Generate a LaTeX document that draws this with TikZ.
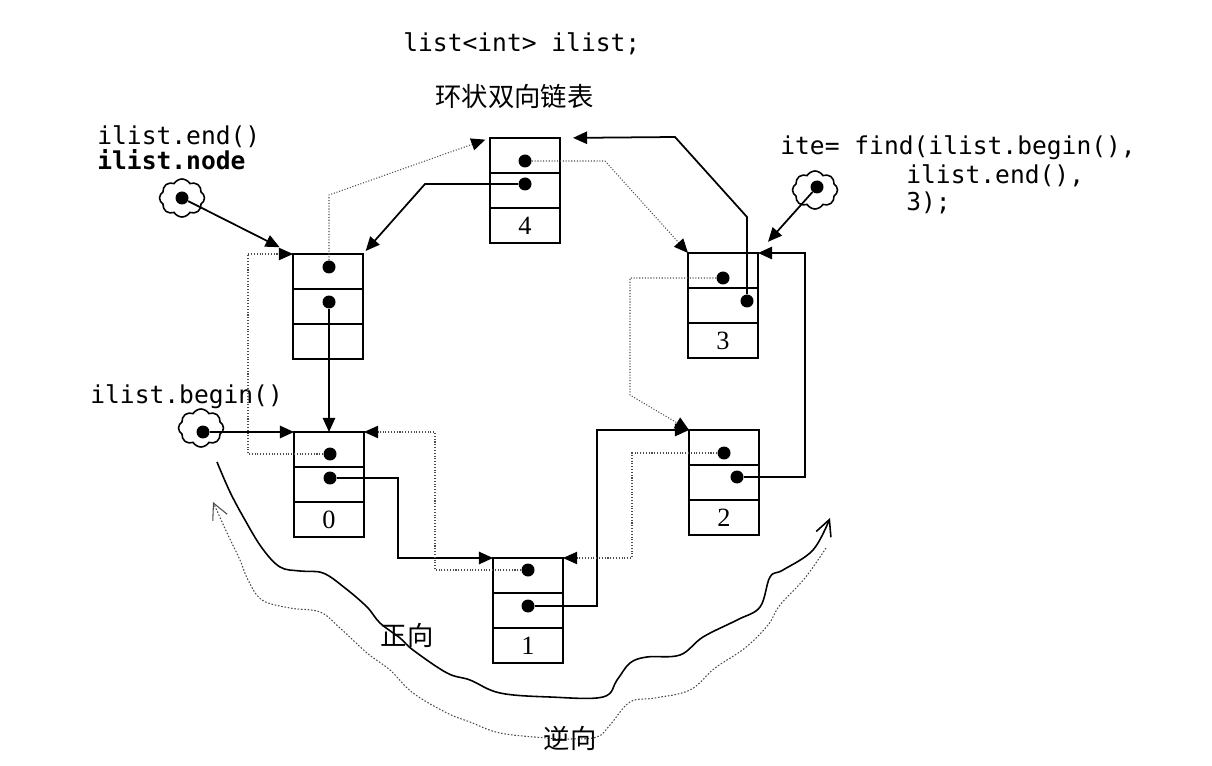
\documentclass[tikz,border=0pt]{standalone}
\usepackage{fontspec}
\setmainfont{Liberation Serif}
\setmonofont{DejaVu Sans Mono}
\newfontfamily\cjk{Noto Sans CJK SC}
\usetikzlibrary{arrows.meta,positioning,shapes.symbols}

% one list node: three stacked cells, value in the last one
\newcommand{\listnode}[3]{%
  \node[cell] (#1a) at (#2) {};
  \node[cell,below=0pt of #1a] (#1b) {};
  \node[cell,below=0pt of #1b] (#1c) {#3};}

\begin{document}
\begin{tikzpicture}[x=0.02cm,y=-0.02cm,>={Triangle[length=8pt,width=7pt]},
  cell/.style={draw,line width=1.1pt,minimum width=1.4cm,minimum height=0.7cm,inner sep=0pt,outer sep=0pt,font=\fontsize{15}{17}\selectfont},
  dot/.style={circle,fill,inner sep=0pt,minimum size=0.26cm},
  puff/.style={cloud,cloud puffs=8,cloud puff arc=120,draw,line width=0.9pt,minimum width=0.9cm,minimum height=0.76cm,inner sep=0pt},
  link/.style={->,line width=1pt},
  nxt/.style={-{Triangle[length=8pt,width=7pt,black]},densely dotted,line width=0.6pt,black!70},
  code/.style={font=\ttfamily\fontsize{14}{16}\selectfont,inner sep=0pt,anchor=base west},
  zh/.style={font=\cjk\fontsize{15}{18}\selectfont,inner sep=0pt},
  wave/.style={line width=0.9pt,-{Straight Barb[length=9pt,width=9pt]}}]
  \useasboundingbox (0,0) rectangle (1212,766);

  % texts
  \node[code] (decl) at (403,52) {list<int> ilist;};
  \node[zh,anchor=base west] (ring) at (435,107) {环状双向链表};
  \node[code] (endlbl) at (97,145) {ilist.end()};
  \node[code] (nodelbl) at (97,170) {\bfseries ilist.node};
  \node[code] (beglbl) at (90,403) {ilist.begin()};
  \node[code] (findA) at (780,155) {ite= find(ilist.begin(),};
  \node[code] (findB) at (906,184) {ilist.end(),};
  \node[code] (findC) at (906,211) {3);};

  % list nodes
  \listnode{nE}{328,271.5}{}
  \listnode{n4}{525,155.5}{4}
  \listnode{n3}{723,270.5}{3}
  \listnode{n2}{724,447.5}{2}
  \listnode{n1}{528,575.5}{1}
  \listnode{n0}{329,449.5}{0}

  \node[dot] (dEa) at (329,267) {};
  \node[dot] (dEb) at (329,302) {};
  \node[dot] (d4a) at (525,161) {};
  \node[dot] (d4b) at (525,184) {};
  \node[dot] (d3a) at (723,278) {};
  \node[dot] (d3b) at (747,301) {};
  \node[dot] (d2a) at (724,453) {};
  \node[dot] (d2b) at (737,477) {};
  \node[dot] (d1a) at (528,570) {};
  \node[dot] (d1b) at (528,606) {};
  \node[dot] (d0a) at (330,454) {};
  \node[dot] (d0b) at (330,478) {};

  % iterators
  \node[puff] (cE) at (182,198) {};
  \node[dot] (cEd) at (cE.center) {};
  \node[puff] (cB) at (201,428) {};
  \node[dot] (cBd) at (203,432) {};
  \node[puff] (cI) at (815,190) {};
  \node[dot] (cId) at (817,187) {};

  \draw[link,shorten >=0.3cm] (cEd) -- (nEa.north west);
  \draw[link] (cBd) -- (n0a.north west);
  \draw[link,shorten >=0.3cm] (cId) -- (n3a.north east);

  % solid links
  \draw[link] (dEb) -- (n0a.north);
  \draw[link] (d0b) -- ++(68,0) |- (n1a.north west);
  \draw[link] (d1b) -- ++(69,0) |- (n2a.north west);
  \draw[link] (d2b) -- ++(68,0) |- (n3a.north east);
  \draw[link,shorten >=0.26cm] (d3b) -- ++(0,-84) -- ++(-72,-80) -- (n4a.north east);
  \draw[link,shorten >=0.08cm] (d4b) -- ++(-100,0) -- (nEa.north east);

  % dotted links
  \draw[nxt,shorten >=0.1cm] (dEa) -- ++(0,-72) -- (n4a.north west);
  \draw[nxt] (d4a) -- ++(80,0) -- (n3a.north west);
  \draw[nxt] (d3a) -- ++(-93,0) -- ++(0,117) -- (n2a.north west);
  \draw[nxt] (d2a) -- ++(-92,0) |- (n1a.north east);
  \draw[nxt] (d1a) -- ++(-93,0) |- (n0a.north east);
  \draw[nxt] (d0a) -- ++(-82,0) |- (nEa.north west);

  % directions
  \draw[wave] plot[smooth,tension=0.6] coordinates {(217,462) (230,492) (245,520) (262,548) (280,567) (300,571) (323,573) (345,588) (367,607) (380,623) (400,638) (413,650) (447,673) (470,680) (500,693) (550,697) (603,697) (617,680) (630,663) (647,657) (680,655) (703,637) (737,620) (760,607) (770,577) (783,570) (813,550) (830,518)};
  \draw[wave,densely dotted,line width=0.6pt,black!70] plot[smooth,tension=0.6] coordinates {(826,548) (805,578) (780,605) (768,625) (745,648) (715,668) (690,690) (655,698) (630,702) (610,725) (597,737) (570,739) (547,738) (500,733) (470,722) (447,713) (413,693) (390,670) (367,653) (340,628) (320,612) (290,608) (262,600) (248,580) (240,560) (228,535) (213,502)};
  \node[zh] (fwd) at (407,635) {正向};
  \node[zh] (bwd) at (570,738) {逆向};
\end{tikzpicture}
\end{document}
